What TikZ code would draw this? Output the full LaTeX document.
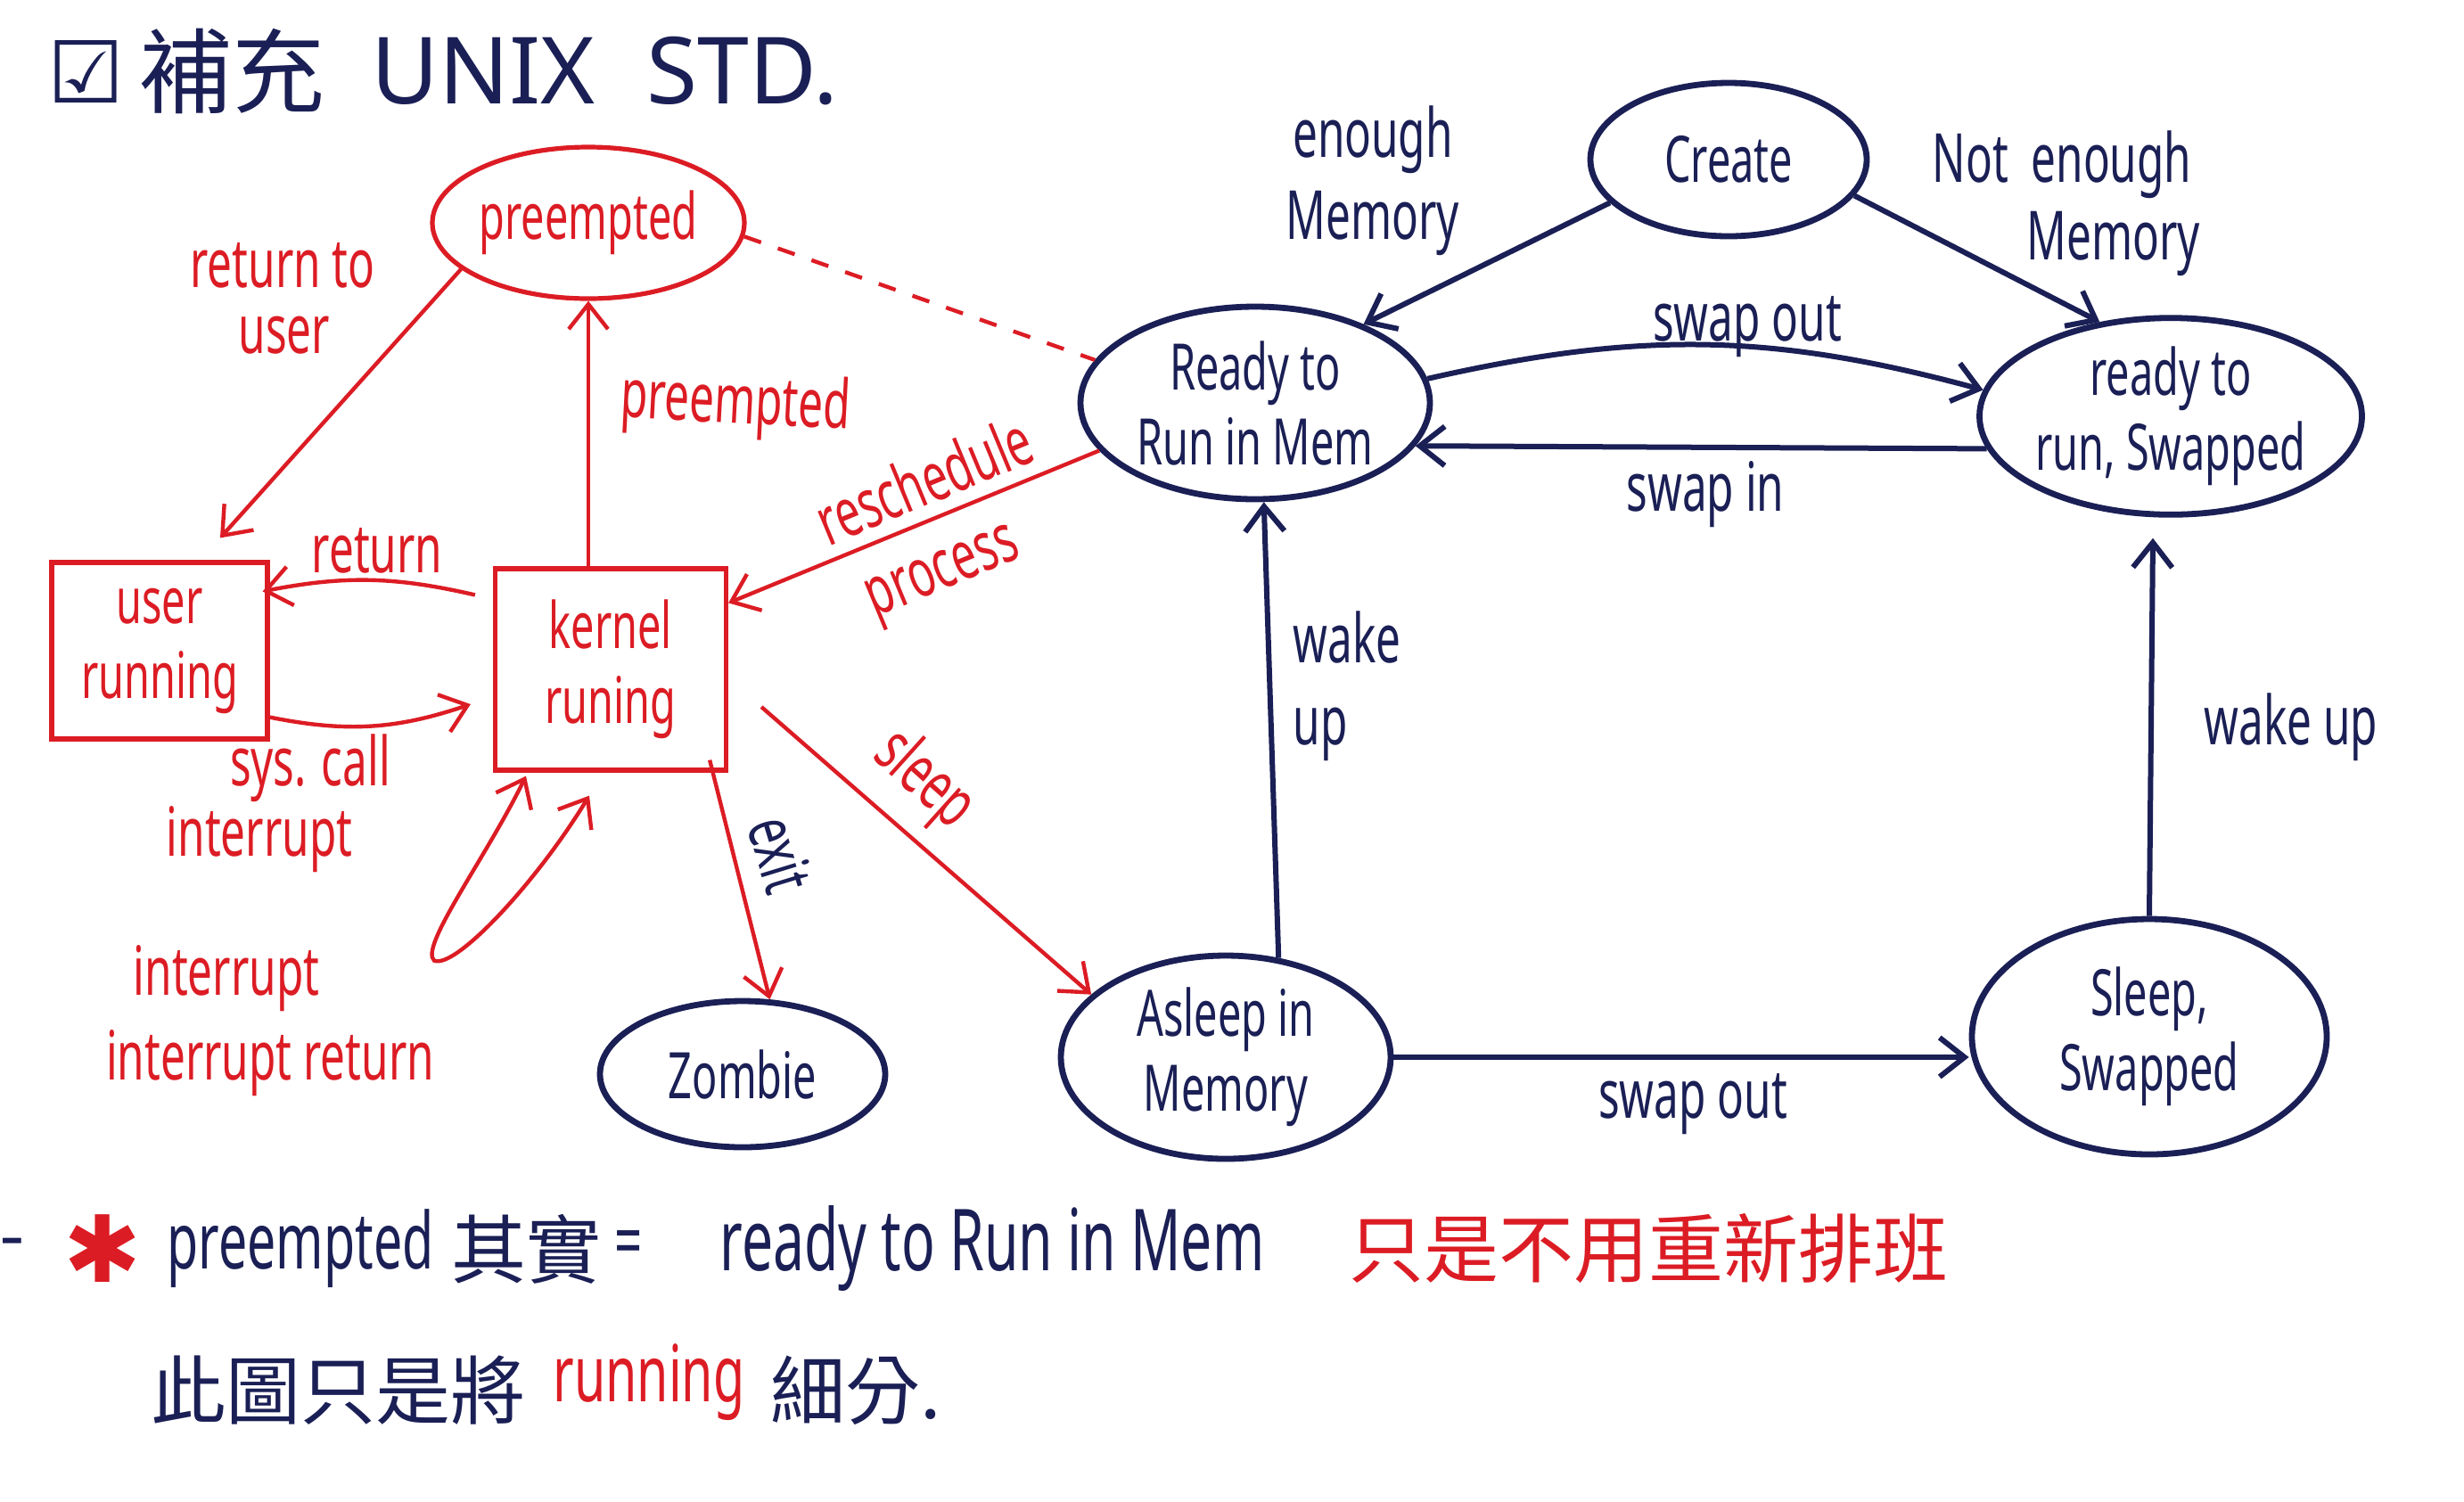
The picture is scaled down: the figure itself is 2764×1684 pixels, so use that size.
\documentclass[tikz,border=0pt]{standalone}
\usepackage{fontspec}
\setmainfont{Noto Sans}[FakeStretch=0.65]
\newfontfamily\cjk{Noto Sans CJK TC}
\newfontfamily\symf{DejaVu Sans}
\newfontfamily\widef{Noto Sans}
\usetikzlibrary{shapes.geometric,arrows.meta,calc}
\definecolor{hred}{RGB}{220,28,36}
\definecolor{hnavy}{RGB}{26,31,85}
\begin{document}
\begin{tikzpicture}[x=0.25pt,y=-0.25pt,
  lbl/.style={font=\fontsize{19}{23}\selectfont, align=center, inner sep=0pt},
  rlbl/.style={lbl, text=hred},
  nlbl/.style={lbl, text=hnavy},
  rst/.style={draw=hred, text=hred, line width=1.3pt},
  nst/.style={draw=hnavy, text=hnavy, line width=1.7pt},
  ell/.style={ellipse, inner sep=0pt, lbl, font=\fontsize{18}{21}\selectfont},
  box/.style={rectangle, inner sep=0pt, lbl, font=\fontsize{18}{21}\selectfont},
  redarr/.style={draw=hred, line width=1.1pt, -{Straight Barb[length=7pt,width=11pt]}},
  navarr/.style={draw=hnavy, line width=1.5pt, -{Straight Barb[length=7pt,width=11pt]}}
]
\useasboundingbox (0,0) rectangle (2764,1684);
\fill[white] (0,0) rectangle (2764,1684);

% title
\node[text=hnavy, font=\fontsize{24}{28}\selectfont, inner sep=0pt] (t1) at (97,80) {\symf ☑};
\node[text=hnavy, font=\fontsize{26}{30}\selectfont, inner sep=0pt] (t2) at (260,80) {\cjk 補充};
\node[text=hnavy, font=\fontsize{26}{30}\selectfont\widef, inner sep=0pt] (t3) at (542,80) {UNIX};
\node[text=hnavy, font=\fontsize{26}{30}\selectfont\widef, inner sep=0pt] (t4) at (833,80) {STD.};

% states
\node[ell, rst, minimum width=87.5pt, minimum height=42.5pt] (pre) at (660,250) {preempted};
\node[box, rst, minimum width=60.5pt, minimum height=49.5pt] (user) at (179,730) {user\\running};
\node[box, rst, minimum width=64.75pt, minimum height=56.5pt] (kern) at (685,751) {kernel\\runing};
\node[ell, nst, minimum width=80pt, minimum height=41pt] (zomb) at (833,1205) {Zombie};
\node[ell, nst, minimum width=77.5pt, minimum height=43pt] (create) at (1939,179) {Create};
\node[ell, nst, minimum width=98pt, minimum height=54pt] (ready) at (1408,452) {Ready to\\Run in Mem};
\node[ell, nst, minimum width=102.5pt, minimum height=53pt] (swapped) at (2435,467) {ready to\\run, Swapped};
\node[ell, nst, minimum width=92.5pt, minimum height=57pt] (asleep) at (1375,1186) {Asleep in\\Memory};
\node[ell, nst, minimum width=99.5pt, minimum height=66pt] (sleepsw) at (2411,1163) {Sleep,\\Swapped};

% red transitions
\draw[redarr] (pre.200) -- ($(user.north)+(68,-25)$);
\node[rlbl] (l1) at (317,298) {return to};
\node[rlbl] (l2) at (319,376) {user};
\draw[redarr] (pre.south |- kern.north) -- (pre.south);
\node[rlbl, rotate=-3] (l3) at (825,455) {preempted};
\draw[redarr] ($(kern.north west)+(-20,32)$) to[bend right=12] ($(user.north east)+(-8,35)$);
\node[rlbl] (l4) at (423,618) {return};
\draw[redarr] ($(user.south east)+(0,-27)$) to[bend right=15] ($(kern.west)+(-25,39)$);
\node[rlbl] (l5) at (348,862) {sys. call};
\node[rlbl] (l6) at (291,942) {interrupt};
\draw[hred, line width=1.1pt, {Straight Barb[length=7pt,width=11pt]}-{Straight Barb[length=7pt,width=11pt]}]
  ($(kern.south)+(-95,4)$) .. controls ($(kern.south)+(-140,96)$) and ($(kern.south)+(-215,196)$) ..
  ($(kern.south)+(-198,211)$) .. controls ($(kern.south)+(-175,221)$) and ($(kern.south)+(-85,126)$) ..
  ($(kern.south)+(-24,26)$);
\node[rlbl] (l7) at (254,1098) {interrupt};
\node[rlbl] (l8) at (303,1193) {interrupt return};
\draw[redarr] ($(kern.south east)+(-21,-14)$) -- (zomb.70);
\node[nlbl, rotate=-73] (l9) at (876,958) {exit};
\draw[redarr] ($(kern.east)+(37,42)$) -- (asleep.155);
\node[rlbl, rotate=-42] (l10) at (1036,876) {sleep};
\draw[redarr] (ready.197) -- ($(kern.north east)+(0,41)$);
\node[rlbl, rotate=22.5] (l11) at (1036,538) {reschedule};
\node[rlbl, rotate=22.5] (l12) at (1060,648) {process};
\draw[hred, line width=1.1pt, dash pattern=on 5pt off 5pt] (pre.-5) -- (ready.165);

% navy transitions
\draw[navarr] (create.200) -- (ready.36);
\node[nlbl] (l13) at (1540,203) {enough\\Memory};
\draw[navarr] (create.-16) -- (swapped.127);
\node[nlbl] (l14) at (2313,185) {Not\ \ enough};
\node[nlbl] (l15) at (2371,273) {Memory};
\draw[navarr] (ready.8) to[bend left=14] (swapped.172);
\node[nlbl] (l16) at (1960,367) {swap out};
\draw[navarr] (swapped.190) -- (ready.-15);
\node[nlbl] (l17) at (1913,555) {swap in};
\draw[navarr] (asleep.62) -- (ready.-85);
\node[nlbl, align=left] (l18) at (1511,770) {wake\\up};
\draw[navarr] (sleepsw.north) -- ($(swapped.south)+(-20,23)$);
\node[nlbl] (l19) at (2570,816) {wake up};
\draw[navarr] (asleep.east) -- (sleepsw.west |- asleep.east);
\node[nlbl] (l20) at (1899,1239) {swap out};

% notes
\node[nlbl] (n0) at (14,1401) {–};
\node[rlbl, font=\fontsize{26}{30}\selectfont] (n1) at (115,1401) {\symf ✱};
\node[nlbl, font=\fontsize{22}{26}\selectfont] (n2) at (337,1401) {preempted};
\node[nlbl, font=\fontsize{21}{26}\selectfont] (n3) at (590,1401) {\cjk 其實};
\node[nlbl, font=\fontsize{21}{26}\selectfont] (n4) at (705,1401) {=};
\node[nlbl, font=\fontsize{24}{28}\selectfont] (n5) at (1113,1401) {ready to Run in Mem};
\node[rlbl, font=\fontsize{21}{26}\selectfont] (n6) at (1849,1401) {\cjk 只是不用重新排班};
\node[nlbl, font=\fontsize{21}{26}\selectfont] (n7) at (379,1560) {\cjk 此圖只是將};
\node[rlbl, font=\fontsize{22}{26}\selectfont] (n8) at (728,1551) {running};
\node[nlbl, font=\fontsize{21}{26}\selectfont] (n9) at (960,1560) {\cjk 細分.};
\end{tikzpicture}
\end{document}
